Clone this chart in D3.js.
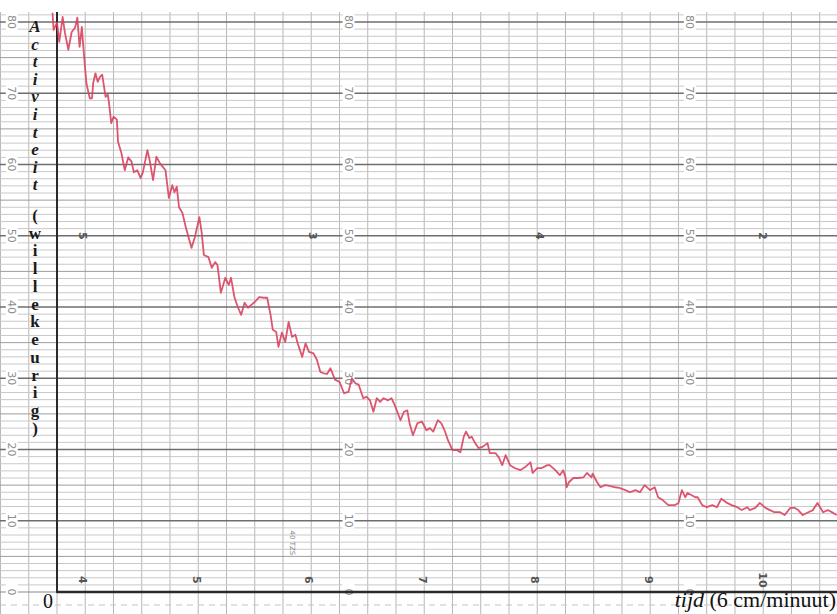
<!DOCTYPE html>
<html><head><meta charset="utf-8">
<script src="https://cdn.jsdelivr.net/npm/d3@7"></script>
<style>
html,body{margin:0;padding:0;background:#fff;}
svg{display:block;}
</style></head>
<body>
<svg id="chart" width="837" height="614"></svg>
<script>
// ---- data (time in s, activity in arbitrary units) ----
const timeS = [-0.4,-0.3,0.0,0.2,0.5,0.7,1.0,1.3,1.6,1.8,2.0,2.2,2.3,2.5,2.6,2.9,3.1,3.2,3.4,3.6,3.8,4.0,4.3,4.5,4.6,4.8,5.0,5.3,5.4,5.7,6.0,6.3,6.6,6.8,7.1,7.4,7.6,8.0,8.2,8.5,8.8,9.1,9.6,9.9,10.2,10.4,10.6,10.8,11.1,11.4,11.9,12.2,12.6,12.8,13.0,13.4,13.7,14.0,14.2,14.5,14.9,15.2,15.4,15.7,16.0,16.3,16.6,16.9,17.2,17.5,17.9,18.3,18.6,18.9,19.1,19.4,19.6,19.9,20.2,20.5,20.8,21.1,21.3,21.7,22.0,22.3,22.7,23.0,23.3,23.6,23.9,24.2,24.6,25.0,25.4,25.8,26.1,26.4,26.7,27.1,27.4,27.7,28.0,28.3,28.6,28.9,29.3,29.6,29.9,30.4,30.7,31.0,31.2,31.5,31.9,32.3,32.7,33.0,33.3,33.7,34.0,34.3,34.6,35.0,35.4,35.7,36.0,36.2,36.5,36.7,37.0,37.3,37.7,38.1,38.3,38.8,39.1,39.4,39.7,40.1,40.5,41.0,41.4,41.9,42.1,42.5,42.9,43.4,43.6,44.1,44.5,44.8,45.0,45.1,45.3,45.7,46.1,46.6,46.9,47.3,47.4,47.8,48.1,48.5,48.9,49.4,49.8,50.3,50.7,51.2,51.6,52.0,52.5,52.9,53.2,53.6,54.1,54.7,55.0,55.3,55.6,55.8,56.5,56.7,57.1,57.5,58.0,58.4,58.8,59.3,59.7,60.2,60.6,61.1,61.3,61.8,62.2,62.7,63.1,63.5,64.0,64.4,64.9,65.3,65.6,66.0,66.5,66.9,67.3,67.8,68.2,68.7,69.0];
const activity = [81.3,78.9,79.9,77.2,80.7,78.5,76.1,78.6,79.2,80.6,76.5,79.3,77.1,73.3,71.4,69.3,69.3,71.4,72.8,71.6,72.3,72.6,69.5,69.8,68.7,65.8,66.7,66.3,63.2,61.6,59.2,61.0,60.4,58.9,59.2,58.1,58.9,62.0,60.6,57.8,61.1,60.2,59.2,55.3,57.1,56.1,56.9,54.0,53.2,51.2,48.3,49.8,52.6,50.5,47.3,47.0,45.5,46.3,45.9,42.0,44.1,43.1,44.1,41.4,40.0,38.9,40.6,39.9,40.3,40.7,41.4,41.3,41.3,38.9,36.8,36.5,34.4,36.4,35.1,37.9,35.8,36.1,34.9,33.0,34.9,33.7,33.5,32.6,30.9,30.7,30.6,31.4,29.8,29.5,27.9,28.1,30.0,29.3,29.1,27.2,27.4,26.9,25.3,27.2,26.7,27.2,26.9,27.2,26.2,24.1,25.3,25.5,23.7,22.0,23.7,23.9,22.7,23.0,22.5,24.1,23.7,22.7,21.3,19.9,19.9,19.6,21.8,22.5,21.6,21.8,20.9,20.2,20.4,20.9,19.5,19.5,18.9,17.8,19.2,17.8,17.4,17.1,17.5,18.2,16.7,17.4,17.4,17.8,17.8,17.1,16.4,17.1,16.1,14.7,15.4,16.0,16.0,16.1,16.7,16.1,16.6,15.4,14.7,15.0,14.9,14.7,14.6,14.3,14.0,14.3,14.0,15.0,14.3,14.7,13.3,12.9,12.2,12.2,12.5,14.3,13.3,13.9,13.3,13.3,12.2,11.9,12.2,11.9,13.1,12.5,12.2,11.9,11.5,11.9,11.5,11.8,12.5,11.8,11.5,11.2,11.2,10.8,11.8,11.8,11.5,10.8,11.2,11.5,12.5,11.2,11.5,11.1,10.8];

// printed scale on the recorder paper
const paperScaleValues = [0,10,20,30,40,50,60,70,80];
const paperScaleColumns = [-4.0, 25.8, 56.0];          // time positions of printed scales
const paperTopMarks = ["5","3","4","2"];
const paperTopMarkTimes = [2.3, 22.6, 42.7, 62.5];
const paperBottomMarks = ["4","5","6","7","8","9","10"];
const paperBottomMarkTimes = [2.3, 12.4, 22.3, 32.4, 42.3, 52.4, 62.5];

const yTitleMain = "Activiteit";
const yTitleSub = "(willekeurig)";
const xTitleItalic = "tijd";
const xTitleRest = " (6 cm/minuut)";
const originLabel = "0";

// ---- scales ----
const W = 837, H = 614;
const x = d3.scaleLinear().domain([0, 69.03]).range([57, 837]);
const y = d3.scaleLinear().domain([0, 80]).range([592, 22]);
const svg = d3.select("#chart");

const paperTop = 12;

// vertical grid lines (every 2.5 s)
const vLines = d3.range(-5, 70, 2.5);
svg.append("g").selectAll("line").data(vLines).join("line")
  .attr("x1", d => x(d)).attr("x2", d => x(d))
  .attr("y1", paperTop).attr("y2", H)
  .attr("stroke", "#b8b8b8").attr("stroke-width", 1);

// horizontal grid lines (every unit)
const hLines = d3.range(1, 82, 1);
svg.append("g").selectAll("line").data(hLines).join("line")
  .attr("x1", 0).attr("x2", W)
  .attr("y1", d => y(d)).attr("y2", d => y(d))
  .attr("stroke", d => d % 10 === 0 ? "#6e6e6e" : (d % 5 === 0 ? "#9c9c9c" : "#c9c9c9"))
  .attr("stroke-width", d => d % 10 === 0 ? 1.3 : 1);

// baseline left part (light) and dashed line below
svg.append("line").attr("x1", 0).attr("x2", x(0)).attr("y1", y(0)).attr("y2", y(0))
  .attr("stroke", "#8a8a8a").attr("stroke-width", 1.2);
svg.append("line").attr("x1", 0).attr("x2", W).attr("y1", 605).attr("y2", 605)
  .attr("stroke", "#c4c4c4").attr("stroke-width", 1).attr("stroke-dasharray", "6,5");

// printed paper scale numbers (rotated), with white knockout
const scaleG = svg.append("g");
paperScaleColumns.forEach(c => {
  paperScaleValues.forEach(v => {
    const g = scaleG.append("g").attr("transform", `translate(${x(c)},${y(v)}) rotate(90)`);
    g.append("rect").attr("x", -8).attr("y", -6).attr("width", 16).attr("height", 12).attr("fill", "#fff");
    g.append("text").attr("text-anchor", "middle").attr("dy", "0.35em")
      .attr("font-family", "DejaVu Sans, sans-serif").attr("font-size", 11)
      .attr("fill", "#8c8c8c").text(v);
  });
});

// printed marks on the paper
paperTopMarks.forEach((m, i) => {
  svg.append("text").attr("transform", `translate(${x(paperTopMarkTimes[i])},${y(50)}) rotate(90)`)
    .attr("text-anchor", "middle").attr("dy", "0.35em")
    .attr("font-family", "DejaVu Sans, sans-serif").attr("font-size", 11).attr("font-weight", "bold")
    .attr("fill", "#555").text(m);
});
paperBottomMarks.forEach((m, i) => {
  svg.append("text").attr("transform", `translate(${x(paperBottomMarkTimes[i])},${y(1.7)}) rotate(90)`)
    .attr("text-anchor", "middle").attr("dy", "0.35em")
    .attr("font-family", "DejaVu Sans, sans-serif").attr("font-size", 11).attr("font-weight", "bold")
    .attr("fill", "#555").text(m);
});
svg.append("text").attr("transform", `translate(${x(20.8)},${y(6.9)}) rotate(90)`)
  .attr("text-anchor", "middle").attr("dy", "0.35em")
  .attr("font-family", "DejaVu Sans, sans-serif").attr("font-size", 7)
  .attr("fill", "#888").text("40 TZS");

// axes (heavy lines)
svg.append("line").attr("x1", x(0)).attr("x2", x(0)).attr("y1", paperTop).attr("y2", y(0) + 1)
  .attr("stroke", "#2a2a2a").attr("stroke-width", 2);
svg.append("line").attr("x1", x(0)).attr("x2", W).attr("y1", y(0)).attr("y2", y(0))
  .attr("stroke", "#2a2a2a").attr("stroke-width", 2.4);

// the recorded trace
const pts = timeS.map((t, i) => [t, activity[i]]);
const line = d3.line().x(d => x(d[0])).y(d => y(d[1])).curve(d3.curveLinear);
svg.append("path").datum(pts).attr("d", line)
  .attr("fill", "none").attr("stroke", "#d9435e").attr("stroke-width", 1.8)
  .attr("stroke-linejoin", "round").attr("stroke-opacity", 0.9);

// y title: stacked letters
const yt = svg.append("g").attr("font-family", "Liberation Serif, serif").attr("font-size", 17)
  .attr("font-weight", "bold").attr("fill", "#1a1a1a").attr("text-anchor", "middle");
yTitleMain.split("").forEach((ch, i) => {
  yt.append("text").attr("x", 35).attr("y", 26 + i * 17.6).attr("dy", "0.35em")
    .attr("font-style", "italic").text(ch);
});
yTitleSub.split("").forEach((ch, i) => {
  yt.append("text").attr("x", 35).attr("y", 215 + i * 17.75).attr("dy", "0.35em").text(ch);
});

// origin and x title
svg.append("text").attr("x", 48).attr("y", 608).attr("text-anchor", "middle")
  .attr("font-family", "Liberation Serif, serif").attr("font-size", 20).attr("fill", "#111").text(originLabel);
const xt = svg.append("text").attr("x", 836).attr("y", 607).attr("text-anchor", "end")
  .attr("font-family", "Liberation Serif, serif").attr("font-size", 22).attr("fill", "#111");
xt.append("tspan").attr("font-style", "italic").text(xTitleItalic);
xt.append("tspan").text(xTitleRest);
</script>
</body></html>
